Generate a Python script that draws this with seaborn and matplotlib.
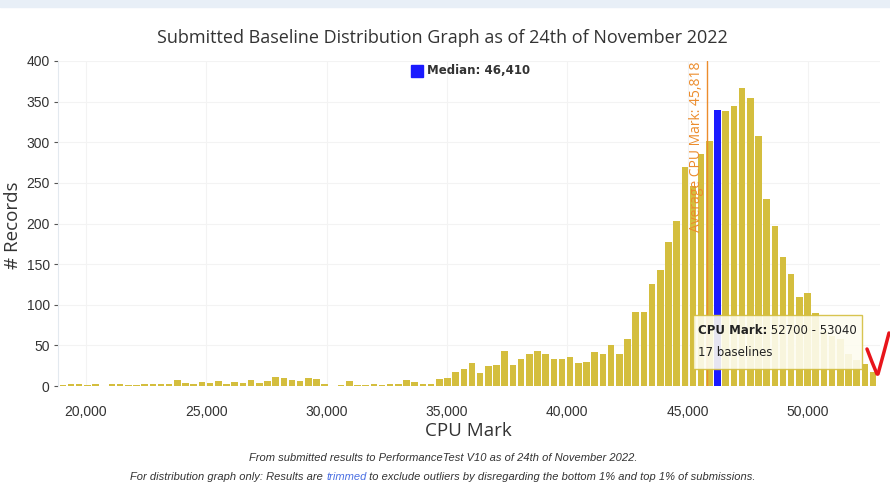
import numpy as np
import pandas as pd
import matplotlib
matplotlib.use("Agg")
import matplotlib.pyplot as plt
import seaborn as sns
from matplotlib.patches import Rectangle
from matplotlib.lines import Line2D

# данные гистограммы (начало корзины, ширина 340)
binWidth = 340
firstBin = 19040
records = [1, 3, 3, 1, 3, 0, 2, 2, 1, 1,
           2, 2, 3, 2, 7, 4, 3, 5, 4, 6,
           3, 5, 4, 7, 4, 6, 11, 10, 8, 6,
           10, 9, 3, 0, 1, 6, 1, 1, 3, 1,
           2, 2, 7, 5, 3, 3, 9, 10, 17, 21,
           28, 16, 25, 26, 43, 26, 33, 40, 43, 39,
           33, 33, 36, 28, 30, 42, 40, 51, 39, 58,
           91, 91, 126, 143, 177, 203, 269, 246, 286, 301,
           340, 338, 345, 367, 354, 308, 230, 197, 159, 138,
           110, 115, 90, 68, 62, 58, 40, 32, 27, 17]
binStarts = [firstBin + binWidth * i for i in range(len(records))]

medianValue = 46410
averageValue = 45818
xTicks = [20000, 25000, 30000, 35000, 40000, 45000, 50000]
yTicks = [0, 50, 100, 150, 200, 250, 300, 350, 400]

titleText = "Submitted Baseline Distribution Graph as of 24th of November 2022"
footLine1 = "From submitted results to PerformanceTest V10 as of 24th of November 2022."
footLine2 = ["For distribution graph only: Results are ", "trimmed",
             " to exclude outliers by disregarding the bottom 1% and top 1% of submissions."]

barColor = "#d4be3e"
medianColor = "#1a1aff"
avgColor = "#ec8c2c"
textColor = "#333333"

dataSet = pd.DataFrame({"CPU Mark": binStarts, "Records": records})

sns.set_style("white")
plt.rcParams["font.family"] = ["Liberation Sans", "DejaVu Sans"]

W, H = 890, 483
fig = plt.figure(figsize=(W / 100, H / 100), dpi=100)
ax = fig.add_axes([58 / W, 1 - 386 / H, (880 - 58) / W, (386 - 61) / H])

# полоса сверху страницы
fig.patches.append(Rectangle((0, 1 - 7 / H), 1, 7 / H, transform=fig.transFigure,
                             color="#e8eff7", zorder=0))

edges = [firstBin - binWidth / 2 + binWidth * i for i in range(len(records) + 1)]
sns.histplot(data=dataSet, x="CPU Mark", weights="Records", bins=edges, shrink=0.8,
             color=barColor, alpha=1, linewidth=0, ax=ax)

# столбец медианы
medianIdx = int((medianValue - firstBin) // binWidth)
ax.patches[medianIdx].set_facecolor(medianColor)

ax.set_xlim(18840, 52990)
ax.set_ylim(0, 400)
ax.set_xticks(xTicks)
ax.set_xticklabels([f"{v:,}" for v in xTicks])
ax.set_yticks(yTicks)
ax.tick_params(axis="x", length=0, pad=14, labelsize=10, labelcolor=textColor)
ax.tick_params(axis="y", length=3, width=0.8, color="#555555", pad=3,
               labelsize=10, labelcolor=textColor, left=True)
ax.grid(True, color="#f3f3f3", linewidth=0.8)
ax.set_axisbelow(True)
for side in ["top", "right", "bottom"]:
    ax.spines[side].set_visible(False)
ax.spines["left"].set_color("#e3e9ef")

ax.set_xlabel("CPU Mark", fontsize=13.5, family="Open Sans", color=textColor)
ax.set_ylabel("# Records", fontsize=13.5, family="Open Sans", color=textColor)
ax.xaxis.set_label_coords((468 - 58) / 822, (386 - 431) / 325)
ax.xaxis.label.set_va("center")
ax.yaxis.set_label_coords((13 - 58) / 822, (386 - 225) / 325)
ax.yaxis.label.set_va("center")

# средняя линия
ax.axvline(averageValue, color=avgColor, linewidth=1)
ax.annotate(f"Average CPU Mark: {averageValue:,}", xy=(averageValue, 400), xycoords="data",
            xytext=(-3, -1), textcoords="offset pixels", rotation=90, ha="right", va="top",
            color=avgColor, fontsize=10, family="Open Sans")

# заголовок и легенда
fig.text(442 / W, 1 - 38 / H, titleText, ha="center", va="center", fontsize=13,
         family="Open Sans", color=textColor)
fig.patches.append(Rectangle((411 / W, 1 - 77 / H), 12 / W, 12 / H, transform=fig.transFigure,
                             color=medianColor))
fig.text(427 / W, 1 - 71 / H, f"Median: {medianValue:,}", fontsize=8.5, weight="bold",
         family="DejaVu Sans", color=textColor, va="center")

renderer = fig.canvas.get_renderer()

# подсказка
fig.patches.append(Rectangle((693 / W, 1 - 369 / H), 169 / W, 54 / H, transform=fig.transFigure,
                             facecolor="#fdfcf0", alpha=0.9, edgecolor=barColor,
                             linewidth=1, zorder=5))
t1 = fig.text(698 / W, 1 - 331 / H, "CPU Mark:", fontsize=8.5, weight="bold",
              family="DejaVu Sans", color="#222222", va="center", zorder=6)
w1 = t1.get_window_extent(renderer=renderer).width
lastBin = binStarts[-1]
fig.text((698 + w1) / W, 1 - 331 / H, f" {lastBin} - {lastBin + binWidth}", fontsize=8.5,
         family="DejaVu Sans", color="#222222", va="center", zorder=6)
fig.text(698 / W, 1 - 352 / H, f"{records[-1]} baselines", fontsize=8.5,
         family="DejaVu Sans", color="#222222", va="center", zorder=6)

# красная стрелка
fig.add_artist(Line2D([889 / W, 884 / W, 878 / W], [1 - 333 / H, 1 - 352 / H, 1 - 374 / H],
                      color="#e8151b", linewidth=2.5, solid_capstyle="round", zorder=7))
fig.add_artist(Line2D([867 / W, 872 / W, 877 / W], [1 - 349 / H, 1 - 362 / H, 1 - 374 / H],
                      color="#e8151b", linewidth=2.5, solid_capstyle="round", zorder=7))

# подписи снизу
fig.text(443 / W, 1 - 458 / H, footLine1, ha="center", va="center", fontsize=8,
         style="italic", color=textColor)
pieces = []
for part in footLine2:
    pieces.append(fig.text(0, 1 - 477 / H, part, va="center", fontsize=8, style="italic",
                           color="#4a6fe3" if part == "trimmed" else textColor))
widths = [p.get_window_extent(renderer=renderer).width for p in pieces]
xPos = 443 - sum(widths) / 2
for p, w in zip(pieces, widths):
    p.set_x(xPos / W)
    xPos += w

fig.savefig("out.png", dpi=100)
